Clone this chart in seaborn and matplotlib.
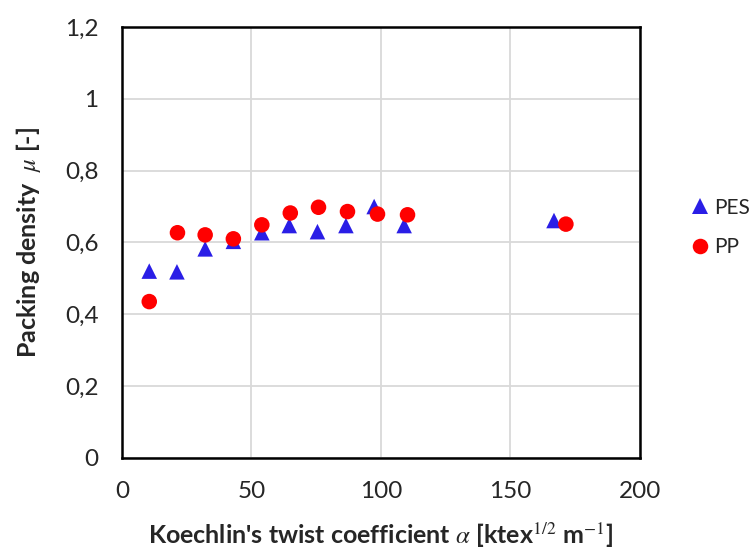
import matplotlib
matplotlib.use("Agg")
import matplotlib.pyplot as plt
import seaborn as sns
import pandas as pd
from matplotlib.ticker import FuncFormatter

pes_x = [10.5, 21.2, 32.1, 43.0, 54.0, 64.6, 75.5, 86.5, 97.4, 109.0, 166.9]
pes_y = [0.520, 0.518, 0.582, 0.603, 0.627, 0.647, 0.630, 0.647, 0.700, 0.647, 0.661]
pp_x = [10.5, 21.4, 32.1, 43.0, 54.0, 65.0, 75.9, 87.1, 98.7, 110.3, 171.5]
pp_y = [0.435, 0.627, 0.621, 0.610, 0.649, 0.682, 0.698, 0.686, 0.679, 0.677, 0.651]
series = ["PES", "PP"]
x_ticks = [0, 50, 100, 150, 200]
y_ticks = [0, 0.2, 0.4, 0.6, 0.8, 1.0, 1.2]

df = pd.DataFrame({
    "x": pes_x + pp_x,
    "y": pes_y + pp_y,
    "s": [series[0]] * len(pes_x) + [series[1]] * len(pp_x),
})

sns.set_style("white")
plt.rcParams["font.family"] = ["Lato", "DejaVu Sans"]
plt.rcParams["mathtext.fontset"] = "stix"

fig = plt.figure(figsize=(7.49, 5.56), dpi=100)
ax = fig.add_axes([0.163, 0.177, 0.691, 0.774])

sns.scatterplot(data=df, x="x", y="y", hue="s", style="s",
                hue_order=series, style_order=series,
                palette={"PES": "#2a1ee6", "PP": "#ff0000"},
                markers={"PES": "^", "PP": "o"},
                s=125, linewidth=0, ax=ax, zorder=3, legend=True)

ax.set_xlim(0, 200)
ax.set_ylim(0, 1.2)
ax.set_xticks(x_ticks)
ax.set_yticks(y_ticks)
ax.yaxis.set_major_formatter(FuncFormatter(lambda v, p: ("%g" % round(v, 1)).replace(".", ",")))
ax.grid(True, color="#d9d9d9", linewidth=1.3)
ax.set_axisbelow(True)
for sp in ax.spines.values():
    sp.set_color("black")
    sp.set_linewidth(1.8)
ax.tick_params(axis="both", length=0, labelsize=17.5)
ax.tick_params(axis="y", pad=17)
ax.tick_params(axis="x", pad=17)

ax.set_xlabel(r"Koechlin's twist coefficient $\mathit{\alpha}$ [ktex$^{1/2}$ m$^{-1}$]",
              fontsize=18, fontweight="bold", labelpad=13)
ax.set_ylabel(r"Packing density  $\mathit{\mu}$ [-]", fontsize=18, fontweight="bold", labelpad=16)

handles, labels = ax.get_legend_handles_labels()
ax.get_legend().remove()
fig.legend(handles, labels, loc="center left", bbox_to_anchor=(0.9207, 0.591),
           bbox_transform=fig.transFigure, frameon=False, fontsize=15,
           handlelength=1.0, handletextpad=0.2, labelspacing=0.95,
           borderpad=0, borderaxespad=0)

fig.savefig("out.png", dpi=100)
